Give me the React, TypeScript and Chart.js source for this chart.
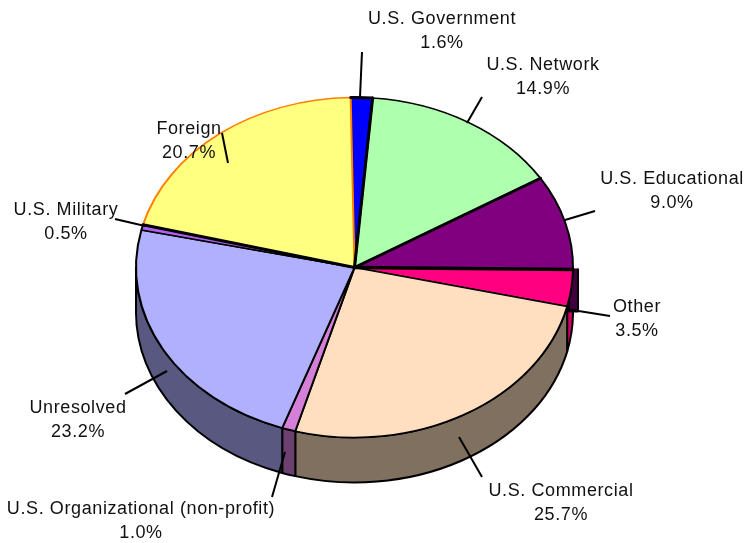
import React, { useEffect, useRef } from "react";
import { Chart, registerables } from "chart.js";

Chart.register(...registerables);

const categories = [
  "U.S. Government",
  "U.S. Network",
  "U.S. Educational",
  "Other",
  "U.S. Commercial",
  "U.S. Organizational (non-profit)",
  "Unresolved",
  "U.S. Military",
  "Foreign",
];
const shares = [1.6, 14.9, 9.0, 3.5, 25.7, 1.0, 23.2, 0.5, 20.7];
const faceColors = ["#0000ff", "#aeffae", "#800080", "#ff0080", "#ffdfc0", "#d480d8", "#b0b0ff", "#b060f0", "#ffff80"];
const wallColors = ["#000080", "#578057", "#400040", "#d00068", "#807060", "#6c4070", "#585880", "#583078", "#808040"];
const edgeColors = ["#000", "#000", "#000", "#000", "#000", "#000", "#000", "#000", "#ff8000"];

// Label placement: centre x, first-line y, leader line from/to
const labelPlacement = [
  { x: 442, y: 19, line: [362, 52, 360, 97] },
  { x: 543, y: 65, line: [482, 97, 467, 123] },
  { x: 672, y: 179, line: [595, 211, 565, 220] },
  { x: 637, y: 307, line: [610, 316, 566, 309] },
  { x: 561, y: 491, line: [482, 477, 459, 437] },
  { x: 141, y: 509, line: [272, 497, 285, 452] },
  { x: 78, y: 408, line: [125, 394, 167, 371] },
  { x: 66, y: 210, line: [115, 219, 145, 226] },
  { x: 189, y: 129, line: [222, 133, 228, 163] },
];

const SQUASH = 170 / 218.5;
const DEPTH = 45;

const pie3d = {
  id: "pie3d",
  beforeDatasetsDraw(chart: any) {
    const { ctx } = chart;
    const arcs = chart.getDatasetMeta(0).data;
    const cx = arcs[0].x;
    const cy = arcs[0].y;
    const r = arcs[0].outerRadius;
    const ry = r * SQUASH;
    ctx.save();
    ctx.lineWidth = 2;
    ctx.strokeStyle = "#000";
    ctx.lineJoin = "round";
    arcs.forEach((arc: any, i: number) => {
      // clockwise angle from +x; only the front half of the rim shows
      let a = arc.startAngle;
      let b = arc.endAngle;
      while (b > 2 * Math.PI) { a -= 2 * Math.PI; b -= 2 * Math.PI; }
      const from = Math.max(a, 0);
      const to = Math.min(b, Math.PI);
      if (to <= from) return;
      ctx.beginPath();
      ctx.ellipse(cx, cy, r, ry, 0, from, to);
      ctx.lineTo(cx + r * Math.cos(to), cy + ry * Math.sin(to) + DEPTH);
      ctx.ellipse(cx, cy + DEPTH, r, ry, 0, to, from, true);
      ctx.closePath();
      ctx.fillStyle = wallColors[i];
      ctx.fill();
      ctx.stroke();
    });
    // Cut face of the slice that ends just past the rightmost point
    const cut = arcs[2];
    const ex = cx + r * Math.cos(cut.endAngle);
    ctx.fillStyle = wallColors[2];
    ctx.fillRect(ex - 4, cy + 1, 9, DEPTH - 2);
    ctx.beginPath();
    ctx.moveTo(ex - 4, cy + 1);
    ctx.lineTo(ex - 4, cy + DEPTH - 1);
    ctx.lineTo(ex + 5, cy + DEPTH - 1);
    ctx.lineTo(ex + 5, cy + 1);
    ctx.stroke();
    ctx.restore();
    ctx.save();
    ctx.translate(cx, cy);
    ctx.scale(1, SQUASH);
    ctx.translate(-cx, -cy);
  },
  afterDatasetsDraw(chart: any) {
    const { ctx } = chart;
    ctx.restore();
    const arcs = chart.getDatasetMeta(0).data;
    const cx = arcs[0].x;
    const cy = arcs[0].y;
    const r = arcs[0].outerRadius;
    const ry = r * SQUASH;
    const spoke = (angle: number, width: number) => {
      ctx.beginPath();
      ctx.moveTo(cx, cy);
      ctx.lineTo(cx + r * Math.cos(angle), cy + ry * Math.sin(angle));
      ctx.lineWidth = width;
      ctx.strokeStyle = "#000";
      ctx.stroke();
    };
    ctx.save();
    ctx.lineCap = "round";
    spoke(arcs[3].startAngle, 3.5);
    spoke(arcs[2].startAngle, 3);
    spoke(arcs[1].startAngle, 3);
    spoke(arcs[8].startAngle, 3);
    ctx.beginPath();
    ctx.ellipse(cx, cy, r, ry, 0, arcs[0].startAngle, arcs[0].endAngle);
    ctx.lineWidth = 3;
    ctx.stroke();

    // Leader lines and labels
    ctx.lineCap = "butt";
    ctx.lineWidth = 2;
    ctx.strokeStyle = "#000";
    labelPlacement.forEach((p) => {
      ctx.beginPath();
      ctx.moveTo(p.line[0], p.line[1]);
      ctx.lineTo(p.line[2], p.line[3]);
      ctx.stroke();
    });
    ctx.fillStyle = "#111";
    ctx.font = '18px "Liberation Sans", Arial, sans-serif';
    ctx.textAlign = "center";
    ctx.textBaseline = "middle";
    (ctx as any).letterSpacing = "0.6px";
    labelPlacement.forEach((p, i) => {
      ctx.fillText(categories[i], p.x, p.y);
      ctx.fillText(shares[i].toFixed(1) + "%", p.x, p.y + 24);
    });
    ctx.restore();
  },
};

export default function App() {
  const ref = useRef<HTMLCanvasElement>(null);
  useEffect(() => {
    const chart = new Chart(ref.current!, {
      type: "pie",
      data: {
        labels: categories,
        datasets: [
          {
            data: shares,
            backgroundColor: faceColors,
            borderColor: edgeColors,
            borderWidth: 2,
            clip: false,
          } as any,
        ],
      },
      options: {
        responsive: false,
        animation: false,
        rotation: -1,
        layout: { padding: { left: 135, right: 171, top: 48, bottom: 56 } },
        plugins: { legend: { display: false }, tooltip: { enabled: false }, title: { display: false } },
      },
      plugins: [pie3d],
    });
    return () => chart.destroy();
  }, []);
  return (
    <canvas
      ref={ref}
      width={745}
      height={543}
      style={{ position: "fixed", left: 0, top: 0, display: "block", background: "#fff" }}
    />
  );
}
